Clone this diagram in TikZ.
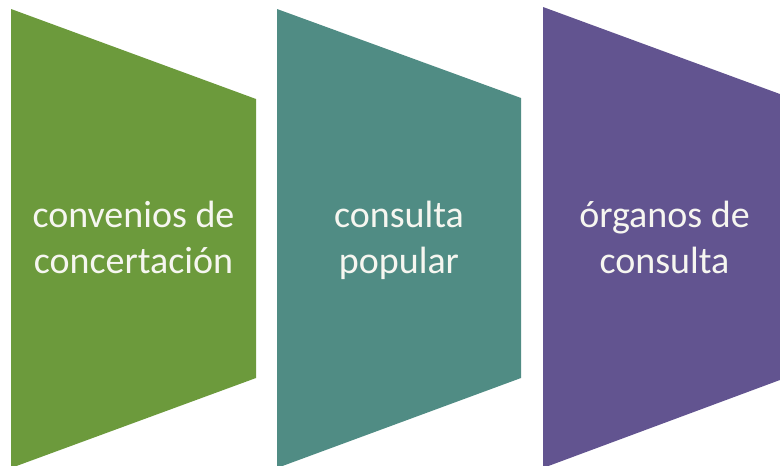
\documentclass[tikz,border=0pt]{standalone}
\usepackage{fontspec}
\setmainfont{Carlito}
\definecolor{cgreen}{RGB}{108,154,60}
\definecolor{cteal}{RGB}{80,140,132}
\definecolor{cpurple}{RGB}{98,84,144}
\definecolor{ctext}{RGB}{246,246,240}
\tikzset{
  lbl/.style={anchor=base, inner sep=0pt, text=ctext, font=\fontsize{38}{46}\selectfont}
}
\begin{document}
\begin{tikzpicture}[x=1pt,y=-1pt]
\useasboundingbox (0,0) rectangle (780,466);
\clip (0,0) rectangle (780,466);
\fill[white] (0,0) rectangle (780,466);
% shapes
\fill[cgreen]  (11,9) -- (256,99) -- (256,378) -- (11,468) -- cycle;
\fill[cteal]   (277,9) -- (521,98) -- (521,378) -- (277,468) -- cycle;
\fill[cpurple] (543,7) -- (788,97) -- (788,377) -- (543,468) -- cycle;
% labels
\node[lbl] (t1a) at (133.5,227) {convenios de};
\node[lbl] (t1b) at (133.5,273) {concertación};
\node[lbl] (t2a) at (399,227) {consulta};
\node[lbl] (t2b) at (399,273) {popular};
\node[lbl] (t3a) at (664.5,227) {órganos de};
\node[lbl] (t3b) at (664.5,273) {consulta};
\end{tikzpicture}
\end{document}
